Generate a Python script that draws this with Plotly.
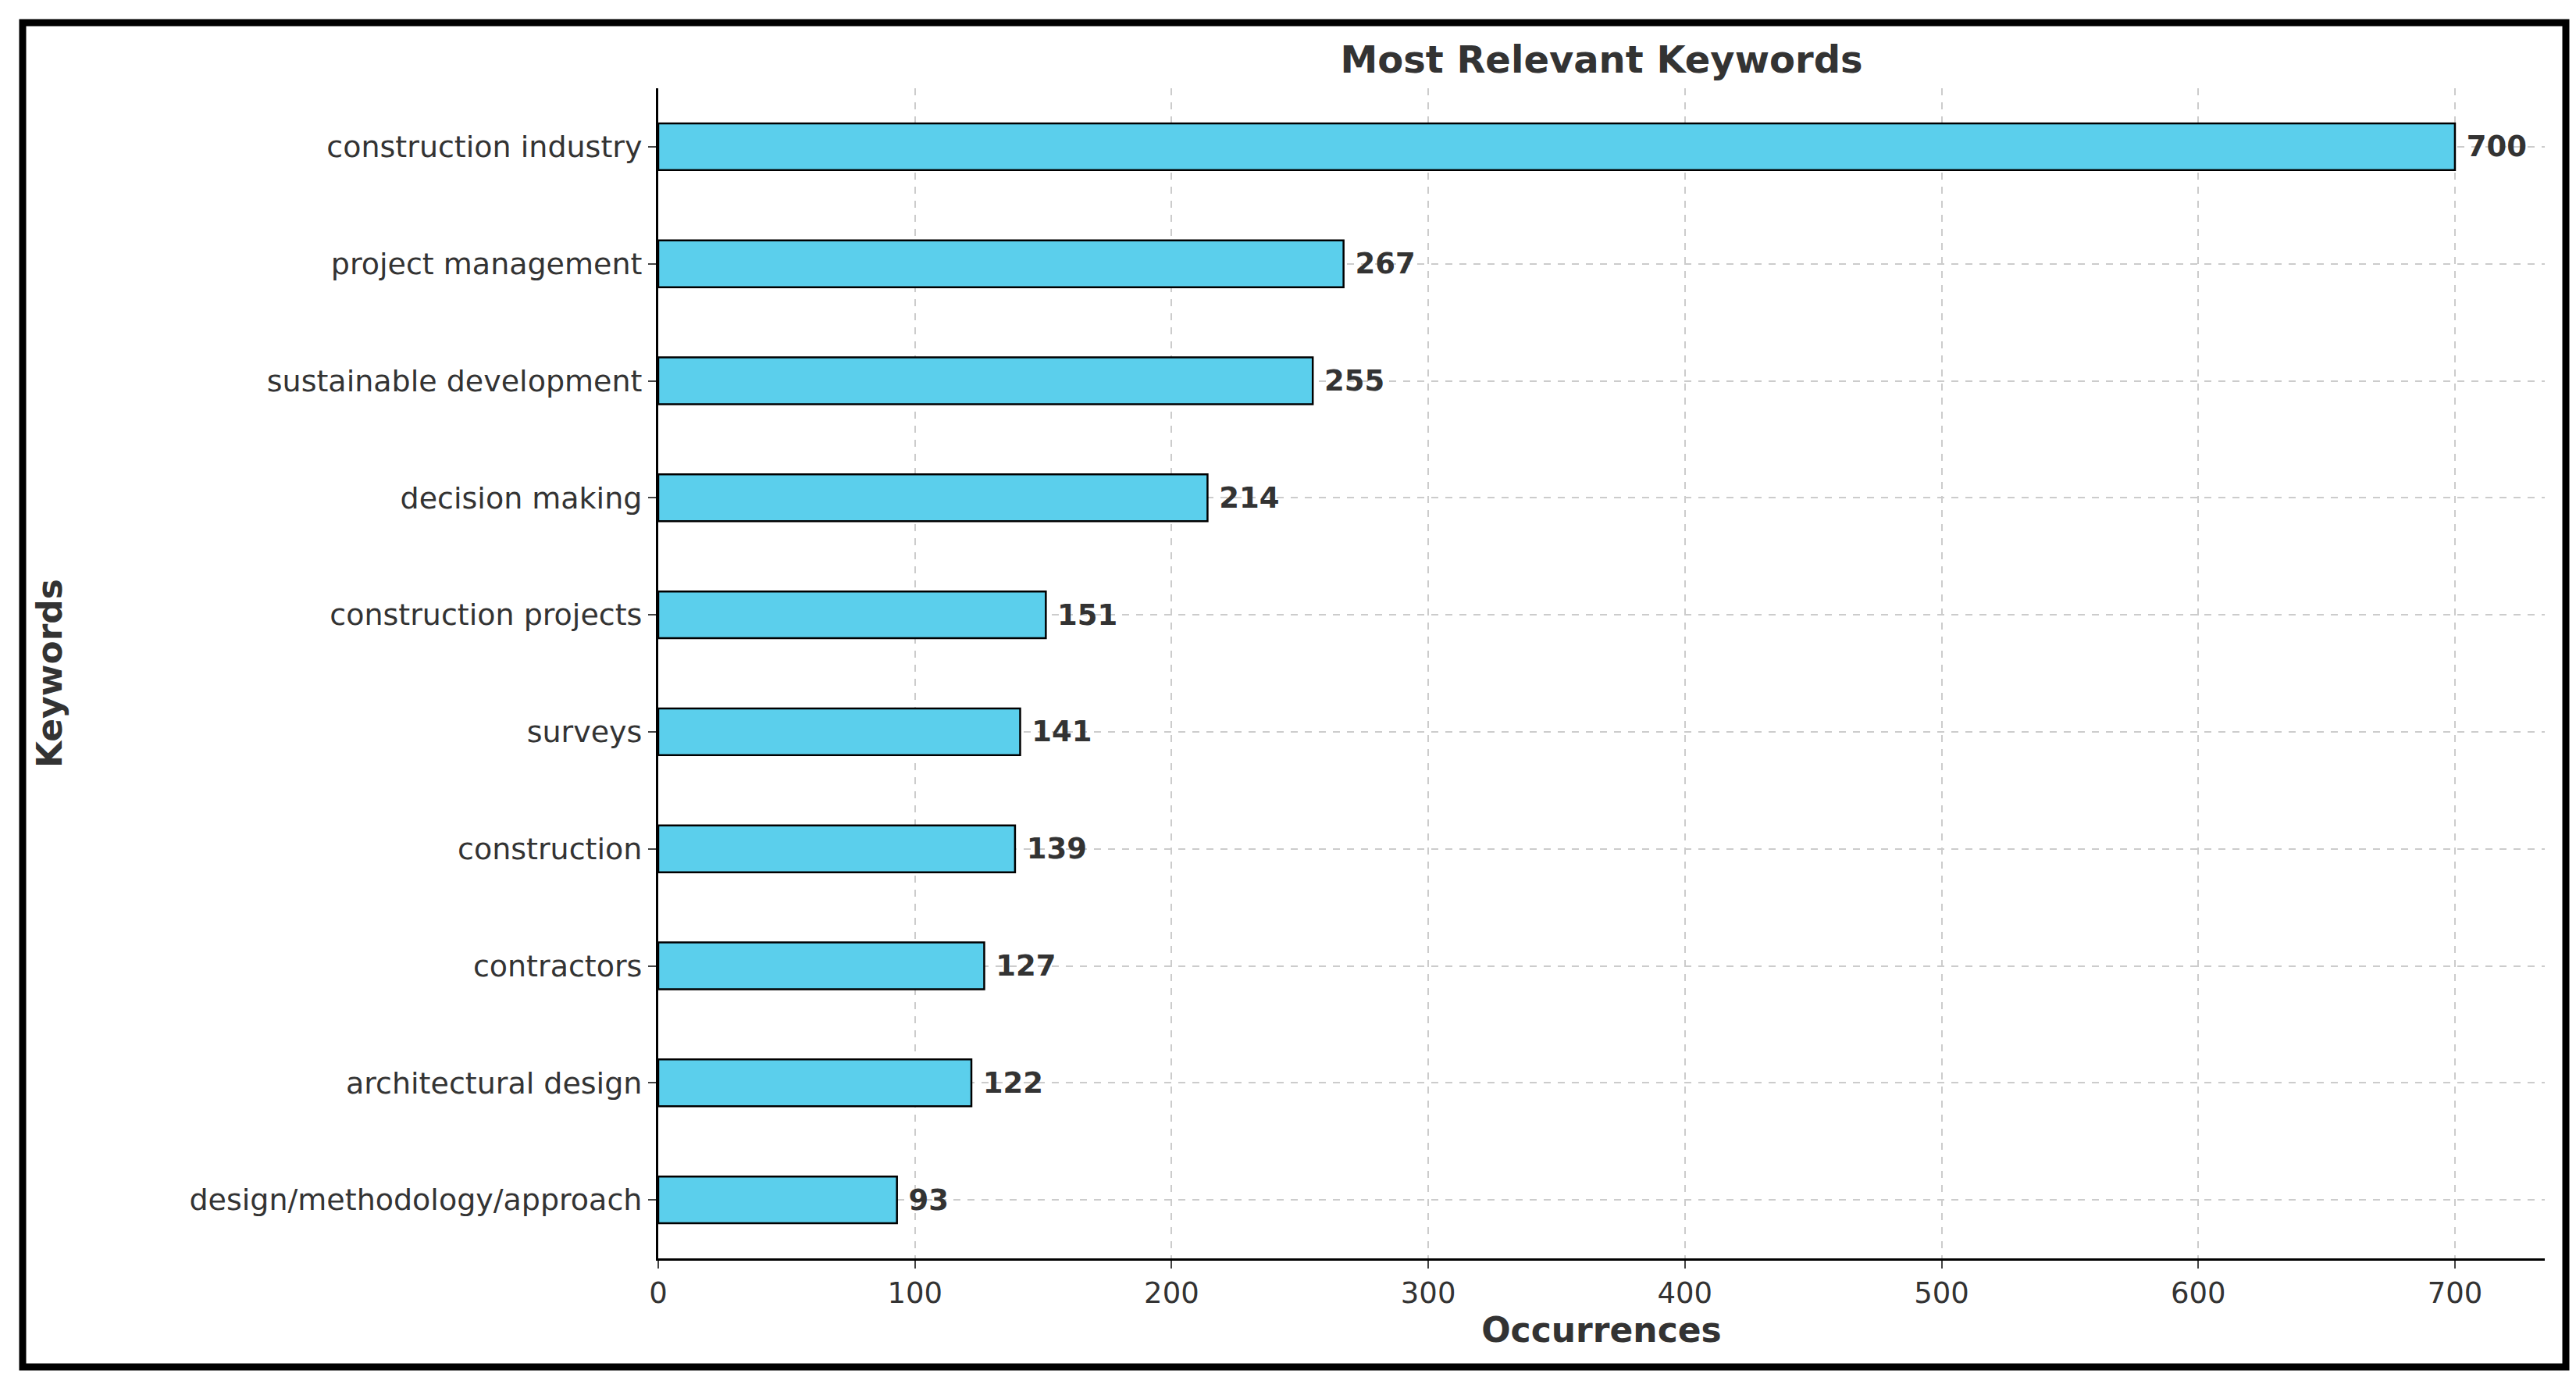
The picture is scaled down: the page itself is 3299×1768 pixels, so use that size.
import plotly.graph_objects as go

keywords = ["construction industry", "project management", "sustainable development",
            "decision making", "construction projects", "surveys", "construction",
            "contractors", "architectural design", "design/methodology/approach"]
occurrences = [700, 267, 255, 214, 151, 141, 139, 127, 122, 93]
x_ticks = [0, 100, 200, 300, 400, 500, 600, 700]

W, H = 3299, 1768
L, R, T, B = 835, 48, 105, 165
pw, ph = W - L - R, H - T - B

fig = go.Figure(go.Bar(
    y=keywords, x=occurrences, orientation="h", width=0.4,
    marker=dict(color="#5bcfec", line=dict(color="black", width=2.5)),
    text=[f" <b>{v}</b>" for v in occurrences], textposition="outside",
    textfont=dict(family="DejaVu Sans", size=37, color="#333333"),
    cliponaxis=False,
))
fig.update_layout(
    width=W, height=H, margin=dict(l=L, r=R, t=T, b=B),
    plot_bgcolor="white", paper_bgcolor="white", showlegend=False,
    font=dict(family="DejaVu Sans", color="#333333"),
    title=dict(text="<b>Most Relevant Keywords</b>", x=(L + pw / 2) / W, xanchor="center",
               y=1 - 68 / H, yanchor="middle", font=dict(size=48, color="#333333")),
    xaxis=dict(range=[0, 735], tickvals=x_ticks, showgrid=True, gridcolor="#cccccc",
               griddash="dash", gridwidth=2, showline=True, linecolor="black", linewidth=3,
               ticks="outside", ticklen=10, tickwidth=2, tickfont=dict(size=37),
               zeroline=False,
               title=dict(text="<b>Occurrences</b>", font=dict(size=44), standoff=10)),
    yaxis=dict(categoryorder="array", categoryarray=keywords, autorange="reversed",
               showgrid=True, gridcolor="#cccccc", griddash="dash",
               gridwidth=2, showline=True, linecolor="black", linewidth=3,
               ticks="outside", ticklen=10, tickwidth=2, tickfont=dict(size=38),
               title=dict(text="<b>Keywords</b>", font=dict(size=44), standoff=150)),
)
fig.add_shape(type="rect", xref="paper", yref="paper",
              x0=(21 - L) / pw, x1=(3278 - L) / pw,
              y0=(H - B - 1742) / ph, y1=(H - B - 21) / ph,
              line=dict(color="black", width=9), fillcolor="rgba(0,0,0,0)")
fig.write_html("out.html")
